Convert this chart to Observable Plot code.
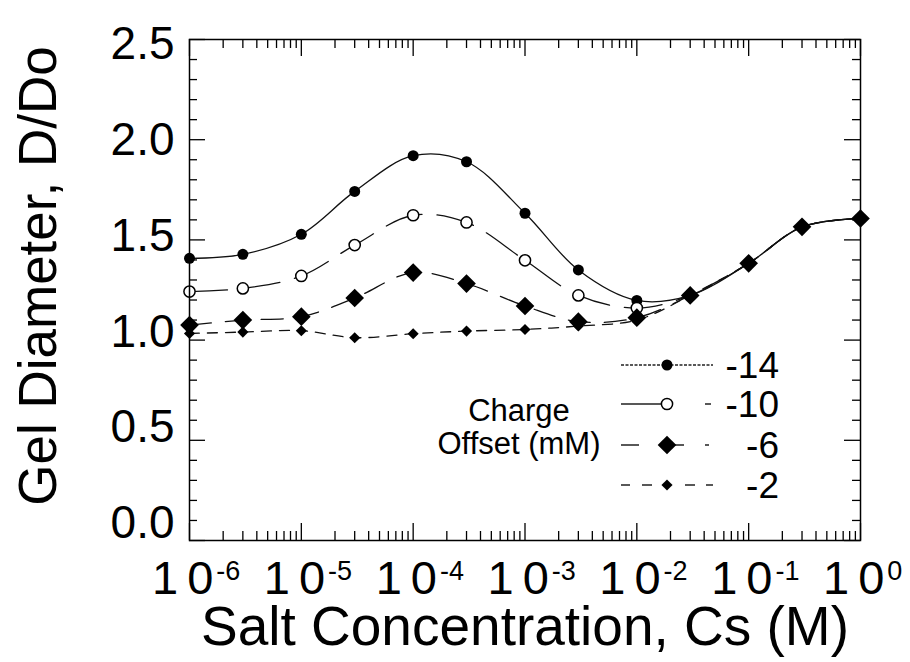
<!DOCTYPE html>
<html><head><meta charset="utf-8">
<script src="https://cdn.jsdelivr.net/npm/d3@7"></script>
<script src="https://cdn.jsdelivr.net/npm/@observablehq/plot@0.6"></script>
<style>
html,body{margin:0;padding:0;background:#fff;}
#chart{width:910px;height:662px;overflow:hidden;}
</style></head><body><div id="chart"></div>
<script>
// ---------- data ----------
const saltLow = [1e-6, 3e-6, 1e-5, 3e-5, 1e-4, 3e-4, 1e-3, 3e-3, 1e-2];
const saltHigh = [3e-2, 1e-1, 3e-1, 1];
const highValues = [1.223, 1.383, 1.565, 1.607];
const seriesNames = ["-14", "-10", "-6", "-2"];
const values14 = [1.408, 1.428, 1.528, 1.742, 1.92, 1.89, 1.633, 1.35, 1.198];
const values10 = [1.242, 1.258, 1.32, 1.474, 1.623, 1.587, 1.398, 1.223, 1.16];
const values6  = [1.075, 1.10, 1.117, 1.21, 1.337, 1.282, 1.17, 1.092, 1.112];
const values2  = [1.033, 1.04, 1.047, 1.012, 1.032, 1.045, 1.053, 1.07, 1.10];
const xDecades = [1e-6, 1e-5, 1e-4, 1e-3, 1e-2, 1e-1, 1];
const xExponents = ["-6", "-5", "-4", "-3", "-2", "-1", "0"];
const yTickValues = [0, 0.5, 1.0, 1.5, 2.0, 2.5];
const xTitle = "Salt Concentration, Cs (M)";
const yTitle = "Gel Diameter, D/Do";
const noteLines = ["Charge", "Offset (mM)"];

// ---------- build ----------
const FONT = "'Liberation Sans', Arial, Helvetica, sans-serif";
const seriesValues = [values14, values10, values6, values2];
const styles = [
  {dash: null, symbol: "circle", r: 5.5, fill: "#000", stroke: "none"},
  {dash: "38,15", symbol: "circle", r: 5.6, fill: "#fff", stroke: "#000"},
  {dash: "22,14", symbol: "diamond2", r: 8.4, fill: "#000", stroke: "none"},
  {dash: "10,8", symbol: "diamond2", r: 5, fill: "#000", stroke: "none"}
];
const own = seriesNames.map((s, i) => saltLow.map((x, j) => ({series: s, x, y: seriesValues[i][j]})));
const shared = saltHigh.map((x, j) => ({x, y: highValues[j]}));
const lineRows = own.map((rows, i) => rows.concat(shared.map(d => ({series: seriesNames[i], ...d}))));

const minor = [];
for (let e = -6; e < 0; e++) for (let m = 2; m <= 9; m++) minor.push(m * Math.pow(10, e));
const yMinor = d3.range(1, 25).map(i => i / 10).filter(v => Math.abs(v * 2 - Math.round(v * 2)) > 1e-6);

const FH = 501, FW = 671;
const tickStyle = {stroke: "#000", strokeWidth: 1.3};
const marks = [
  Plot.tickX(minor, {x: d => d, insetTop: FH - 9, ...tickStyle}),
  Plot.tickX(minor, {x: d => d, insetBottom: FH - 9, ...tickStyle}),
  Plot.tickX(xDecades, {x: d => d, insetTop: FH - 17, ...tickStyle}),
  Plot.tickX(xDecades, {x: d => d, insetBottom: FH - 17, ...tickStyle}),
  Plot.tickY(yMinor, {y: d => d, insetRight: FW - 8, ...tickStyle}),
  Plot.tickY(yMinor, {y: d => d, insetLeft: FW - 8, ...tickStyle}),
  Plot.tickY(yTickValues, {y: d => d, insetRight: FW - 16, ...tickStyle}),
  Plot.tickY(yTickValues, {y: d => d, insetLeft: FW - 16, ...tickStyle}),
];
lineRows.forEach((rows, i) => {
  marks.push(Plot.line(rows, {x: "x", y: "y", curve: "catmull-rom", stroke: "#111", strokeWidth: 1.3,
    strokeDasharray: styles[i].dash || undefined}));
});
own.forEach((rows, i) => {
  const s = styles[i];
  marks.push(Plot.dot(rows, {x: "x", y: "y", r: s.r, symbol: s.symbol, fill: s.fill,
    stroke: s.stroke, strokeWidth: 1.5}));
});
marks.push(Plot.dot(shared, {x: "x", y: "y", r: 8.4, symbol: "diamond2", fill: "#000"}));
marks.push(Plot.frame({stroke: "#000", strokeWidth: 1.5}));
// y tick labels (slightly compressed spacing as in the original)
yTickValues.forEach(v => {
  marks.push(Plot.text([v], {y: d => d, text: d => d.toFixed(1), frameAnchor: "left", textAnchor: "end",
    dx: -15, dy: 5 - (2.5 - v) * 8.8, fontSize: 46, fill: "#000", ariaLabel: "ylabel"}));
});

const chart = Plot.plot({
  width: 910, height: 662,
  marginLeft: 189, marginRight: 50, marginTop: 39, marginBottom: 122,
  x: {type: "log", domain: [1e-6, 1], axis: null},
  y: {domain: [0, 2.5], axis: null},
  style: {fontFamily: FONT, background: "#fff", color: "#000", overflow: "visible"},
  marks
});
document.getElementById("chart").appendChild(chart);

const svg = d3.select(chart);
svg.selectAll('g[aria-label="ylabel"] text').style("letter-spacing", "2px");

// x tick labels: "10" with a superscript exponent, positioned by Plot's x scale
const xScale = chart.scale("x");
const xl = svg.append("g").attr("font-family", FONT).attr("fill", "#000").attr("text-anchor", "start");
xDecades.forEach((d, i) => {
  const t = xl.append("text").attr("text-anchor", "start")
    .attr("x", xScale.apply(d) - 37).attr("y", 594).attr("font-size", 47);
  t.append("tspan").style("letter-spacing", "9px").text("1");
  t.append("tspan").style("letter-spacing", "0px").text("0");
  t.append("tspan").attr("dx", 3).attr("dy", -14).attr("font-size", 27)
    .style("letter-spacing", "0px").text(xExponents[i]);
});

// axis titles
svg.append("text").attr("x", 525).attr("y", 645).attr("text-anchor", "middle")
  .attr("font-size", 55).attr("font-family", FONT).attr("fill", "#000").text(xTitle);
svg.append("text").attr("transform", "translate(56,276) rotate(-90)").attr("text-anchor", "middle")
  .attr("font-size", 53).attr("font-family", FONT).attr("fill", "#000").text(yTitle);

// note
noteLines.forEach((t, i) => {
  svg.append("text").attr("x", 519).attr("y", 421 + i * 33).attr("text-anchor", "middle")
    .attr("font-size", 31).attr("font-family", FONT).attr("fill", "#000").text(t);
});

// legend
const legY = [365, 404, 445, 485];
const legDash = ["3,1.5", "50,34,6,40", "18,35,10,21,4,40", "9,12,10,33,10,11,7,40"];
const g = svg.append("g");
seriesNames.forEach((name, i) => {
  const y = legY[i], s = styles[i];
  g.append("line").attr("x1", 621).attr("x2", 713).attr("y1", y).attr("y2", y)
    .attr("stroke", "#222").attr("stroke-width", 1.3).attr("stroke-dasharray", legDash[i]);
  const sym = d3.symbol().type(s.symbol === "circle" ? d3.symbolCircle : d3.symbolDiamond2)
    .size(Math.PI * s.r * s.r);
  g.append("path").attr("d", sym()).attr("transform", `translate(667,${y})`)
    .attr("fill", s.fill).attr("stroke", s.stroke).attr("stroke-width", 1.5);
  g.append("text").attr("x", 779).attr("y", y).attr("dy", "0.35em").attr("text-anchor", "end")
    .attr("font-size", 37).attr("font-family", FONT).attr("fill", "#000").text(name);
});
</script></body></html>
